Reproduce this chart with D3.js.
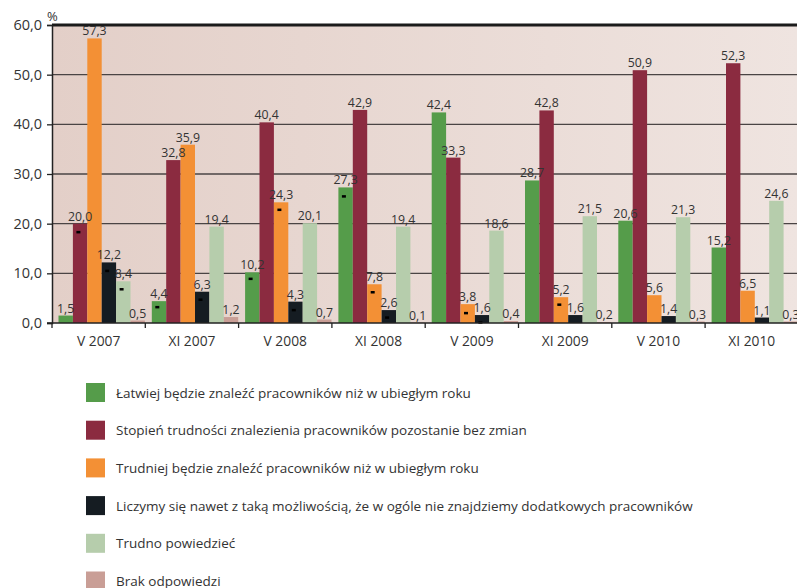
<!DOCTYPE html>
<html><head><meta charset="utf-8">
<script src="https://cdn.jsdelivr.net/npm/d3@7"></script>
<style>body{margin:0;background:#fff}svg{display:block}text{font-family:"Open Sans",sans-serif;fill:#333}</style>
</head><body><svg id="c" width="797" height="588"></svg>
<script>
const categories = ["V 2007","XI 2007","V 2008","XI 2008","V 2009","XI 2009","V 2010","XI 2010"];
const seriesNames = [
  "Łatwiej będzie znaleźć pracowników niż w ubiegłym roku",
  "Stopień trudności znalezienia pracowników pozostanie bez zmian",
  "Trudniej będzie znaleźć pracowników niż w ubiegłym roku",
  "Liczymy się nawet z taką możliwością, że w ogóle nie znajdziemy dodatkowych pracowników",
  "Trudno powiedzieć",
  "Brak odpowiedzi"
];
const seriesColors = ["#559c4a","#8b2b40","#f39035","#151c22","#b6cdac","#c99e96"];
const easier   = [1.5, 4.4, 10.2, 27.3, 42.4, 28.7, 20.6, 15.2];
const same     = [20.0, 32.8, 40.4, 42.9, 33.3, 42.8, 50.9, 52.3];
const harder   = [57.3, 35.9, 24.3, 7.8, 3.8, 5.2, 5.6, 6.5];
const none     = [12.2, 6.3, 4.3, 2.6, 1.6, 1.6, 1.4, 1.1];
const hardSay  = [8.4, 19.4, 20.1, 19.4, 18.6, 21.5, 21.3, 24.6];
const noAnswer = [0.5, 1.2, 0.7, 0.1, 0.4, 0.2, 0.3, 0.3];
const yTicks = [0, 10, 20, 30, 40, 50, 60];
// small black marks visible on some bars: [category index, series index, value]
const marks = [[0,1,18.3],[0,3,10.5],[0,4,6.8],[1,0,3.2],[1,3,4.7],[2,0,8.9],[2,2,22.8],[2,3,2.6],
               [3,0,25.5],[3,2,6.2],[3,3,1.1],[4,2,2.0],[4,3,0.1],[5,2,3.7]];

const series = [easier, same, harder, none, hardSay, noAnswer];
const svg = d3.select("#c");
const L = 52, T = 25, B = 323, R = 798.4;
const y = d3.scaleLinear().domain([0, 60]).range([B, T]);
const x0 = d3.scaleBand().domain(categories).range([L, R]).paddingInner(0).paddingOuter(0);
const x1 = d3.scaleBand().domain(d3.range(series.length)).range([6.5, 6.5 + 6 * 14.4]).padding(0);
const fmt = v => d3.format(".1f")(v).replace(".", ",");

const defs = svg.append("defs");
const g = defs.append("linearGradient").attr("id","bg").attr("x1","0").attr("x2","1").attr("y1","0").attr("y2","0");
g.append("stop").attr("offset","0").attr("stop-color","#e3cfc8");
g.append("stop").attr("offset","1").attr("stop-color","#efe4e0");
svg.append("rect").attr("x", L).attr("y", T).attr("width", R - L).attr("height", B - T).attr("fill","url(#bg)");

// gridlines
svg.append("g").selectAll("line").data(yTicks.filter(d => d > 0)).join("line")
  .attr("x1", L).attr("x2", 797).attr("y1", d => y(d)).attr("y2", d => y(d))
  .attr("stroke", d => d === 60 ? "#1b1b1b" : "#4a4444").attr("stroke-width", d => d === 60 ? 3 : 1.3);

// bars
const groups = svg.append("g").selectAll("g").data(categories).join("g")
  .attr("transform", c => `translate(${x0(c)},0)`);
groups.selectAll("rect").data((c, ci) => series.map((s, si) => ({si, v: s[ci]}))).join("rect")
  .attr("x", d => x1(d.si)).attr("width", x1.bandwidth())
  .attr("y", d => y(d.v)).attr("height", d => B - y(d.v))
  .attr("fill", d => seriesColors[d.si]);
groups.selectAll("text").data((c, ci) => series.map((s, si) => ({si, v: s[ci]}))).join("text")
  .attr("x", d => x1(d.si) + x1.bandwidth() / 2).attr("y", d => y(d.v) - 3)
  .attr("text-anchor", "middle").attr("font-size", 12.3).text(d => fmt(d.v));

// marks
svg.append("g").selectAll("rect").data(marks).join("rect")
  .attr("x", d => x0(categories[d[0]]) + x1(d[1]) + 3.5).attr("y", d => y(d[2]) - 1.2)
  .attr("width", 4).attr("height", 2.5).attr("fill", "#000");

// axes
const yAxis = d3.axisLeft(y).tickValues(yTicks).tickSize(5).tickFormat(fmt);
const ya = svg.append("g").attr("transform", `translate(${L},0)`).call(yAxis);
ya.select(".domain").attr("stroke", "#222").attr("stroke-width", 1.5);
ya.selectAll(".tick line").attr("stroke", "#222").attr("stroke-width", 1.3);
ya.selectAll(".tick text").attr("font-size", 14.5).attr("font-family", "Open Sans").attr("fill", "#333").attr("x", -10);

svg.append("line").attr("x1", L - 5).attr("x2", 797).attr("y1", B).attr("y2", B).attr("stroke", "#222").attr("stroke-width", 1.5);
svg.append("g").selectAll("line").data(categories).join("line")
  .attr("x1", c => x0(c)).attr("x2", c => x0(c)).attr("y1", B).attr("y2", B + 5)
  .attr("stroke", "#222").attr("stroke-width", 1.3);
svg.append("g").selectAll("text").data(categories).join("text")
  .attr("x", c => x0(c) + x0.bandwidth() / 2).attr("y", 346)
  .attr("text-anchor", "middle").attr("font-size", 13.8).text(c => c);

svg.append("text").attr("x", 47).attr("y", 21).attr("font-size", 13).text("%");

// legend
const leg = svg.append("g").selectAll("g").data(seriesNames).join("g")
  .attr("transform", (d, i) => `translate(86,${383 + i * 37.7})`);
leg.append("rect").attr("width", 19).attr("height", 19).attr("fill", (d, i) => seriesColors[i]);
leg.append("text").attr("x", 30).attr("y", 14.5).attr("font-size", 13.5).text(d => d);
</script></body></html>
